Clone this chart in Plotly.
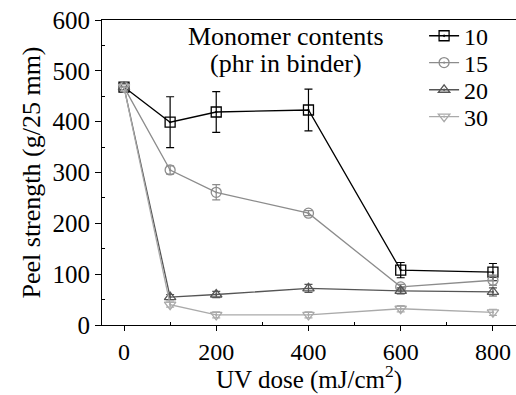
import plotly.graph_objects as go

dose = [0, 100, 200, 400, 600, 800]
s10 = [468, 399, 419, 423, 108, 104]
e10 = [0, 50, 40, 41, 15, 17]
s15 = [468, 305, 261, 220, 75, 88]
e15 = [0, 8, 15, 5, 5, 10]
s20 = [468, 55, 60, 72, 67, 65]
e20 = [0, 5, 6, 8, 6, 8]
s30 = [468, 40, 20, 20, 32, 25]
e30 = [0, 5, 6, 6, 6, 6]
names = ["10", "15", "20", "30"]
note_lines = ["Monomer contents", "(phr in binder)"]
x_title = "UV dose (mJ/cm<sup>2</sup>)"
y_title = "Peel strength (g/25 mm)"

series = [
    (names[0], s10, e10, "#000000", "square-open-dot"),
    (names[1], s15, e15, "#8c8c8c", "circle-open-dot"),
    (names[2], s20, e20, "#555555", "triangle-up-open-dot"),
    (names[3], s30, e30, "#aaaaaa", "triangle-down-open-dot"),
]

FONT = "Liberation Serif"
fig = go.Figure()
legend_ids = ["legend", "legend2", "legend3", "legend4"]
for (name, y, e, c, sym), lid in zip(series, legend_ids):
    fig.add_trace(go.Scatter(
        x=dose, y=y, name=name, mode="lines+markers", legend=lid,
        line=dict(color=c, width=1.3),
        marker=dict(symbol=sym, size=10, color=c, line=dict(color=c, width=1.3)),
        error_y=dict(type="data", array=e, visible=True, color=c, thickness=1.2, width=4),
    ))

for txt, yv in zip(note_lines, [567, 514]):
    fig.add_annotation(
        text=txt, xref="x", yref="y", x=351, y=yv, showarrow=False,
        xanchor="center", yanchor="middle",
        font=dict(family=FONT, size=26, color="black"),
    )

fig.add_annotation(
    text=x_title, xref="paper", yref="paper", x=0.5, y=-0.228,
    xanchor="center", yanchor="bottom", showarrow=False, borderpad=0,
    font=dict(family=FONT, size=25, color="black"),
)

leg_y = [0.947, 0.859, 0.770, 0.682]
legends = {}
for lid, ly in zip(legend_ids, leg_y):
    legends[lid] = dict(
        x=0.778, y=ly, xanchor="left", yanchor="middle",
        bgcolor="rgba(0,0,0,0)", font=dict(family=FONT, size=24),
        itemwidth=30,
    )

fig.update_layout(
    width=516, height=395,
    margin=dict(l=102, r=0, t=20, b=70),
    plot_bgcolor="white", paper_bgcolor="white",
    font=dict(family=FONT, size=26, color="black"),
    showlegend=True,
    **legends,
)
fig.update_xaxes(
    range=[-47.7, 850], tickvals=[0, 200, 400, 600, 800],
    showgrid=False, zeroline=False, automargin=False,
    showline=True, linecolor="black", linewidth=1, mirror=True,
    ticks="outside", ticklen=5, tickcolor="black",
    minor=dict(tickvals=[100, 300, 500, 700], ticks="inside", ticklen=3, tickcolor="black"),
    tickfont=dict(family=FONT, size=24),
)
fig.update_yaxes(
    range=[0, 600], tickvals=[0, 100, 200, 300, 400, 500, 600],
    showgrid=False, zeroline=False, automargin=False,
    showline=True, linecolor="black", linewidth=1,
    ticks="outside", ticklen=6, tickcolor="black",
    minor=dict(tickvals=[50, 150, 250, 350, 450, 550], ticks="inside", ticklen=3, tickcolor="black"),
    title=dict(text=y_title, font=dict(family=FONT, size=26), standoff=4),
    tickfont=dict(family=FONT, size=25),
)
fig.write_html("out.html")
